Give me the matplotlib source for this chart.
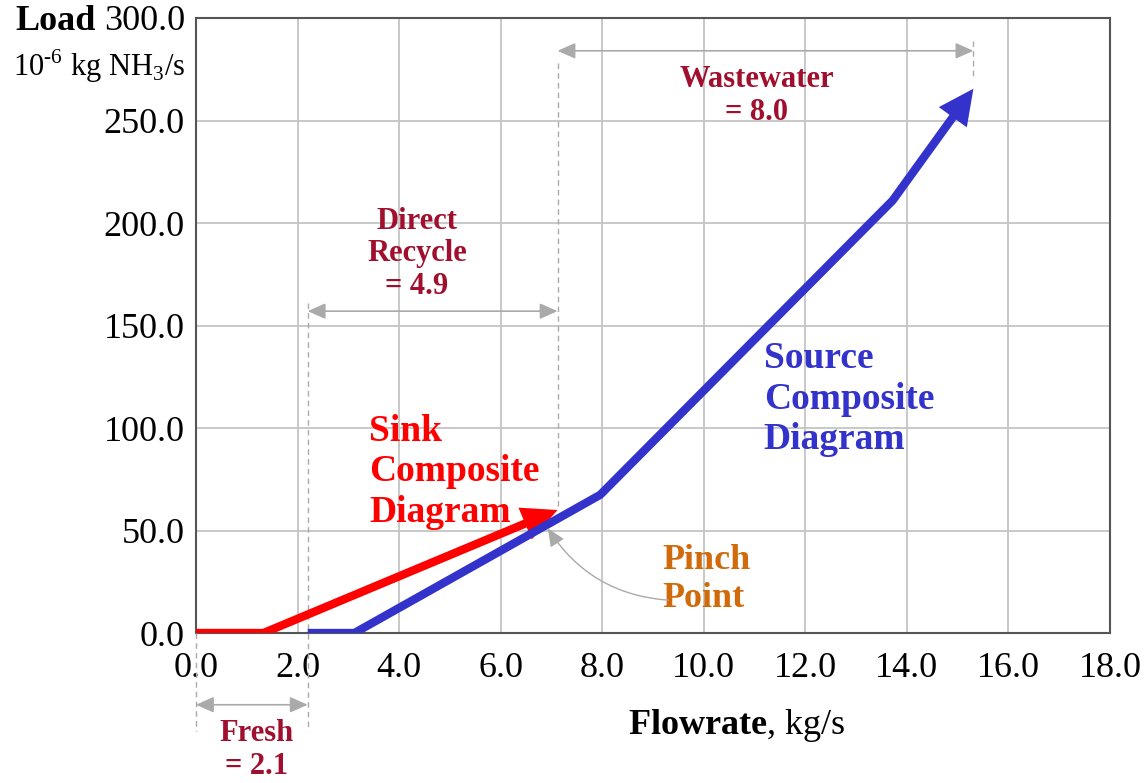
import numpy as np
import matplotlib
matplotlib.use('Agg')
import matplotlib.pyplot as plt
from matplotlib.ticker import MultipleLocator, FormatStrFormatter

plt.rcParams['font.family'] = ['Liberation Serif', 'DejaVu Serif']
plt.rcParams['mathtext.fontset'] = 'custom'
plt.rcParams['mathtext.rm'] = 'Liberation Serif'
plt.rcParams['mathtext.bf'] = 'Liberation Serif:bold'

# composite curves: flowrate (kg/s) vs load (1e-6 kg NH3/s)
sink_flow = [0.0, 1.33, 7.12]
sink_load = [0.0, 0.0, 60.0]
source_flow = [2.2, 3.12, 7.96, 13.72, 15.31]
source_load = [0.0, 0.0, 67.4, 211.0, 265.5]

# targets (dimension arrows)
fresh_span = (0.0, 2.2)
recycle_span = (2.2, 7.12)
waste_span = (7.12, 15.31)
fresh_text = 'Fresh\n= 2.1'
recycle_text = 'Direct\nRecycle\n= 4.9'
waste_text = 'Wastewater\n= 8.0'

RED = '#FF0000'
BLUE = '#3333CC'
DARKRED = '#A0102E'
ORANGE = '#D06A0A'
GRAY = '#AAAAAA'

DPI = 100
fig = plt.figure(figsize=(11.44, 7.83), dpi=DPI)
ax = fig.add_axes([196 / 1144, 1 - 633 / 783, (1110 - 196) / 1144, (633 - 18) / 783])

ax.set_xlim(0, 18)
ax.set_ylim(0, 300)
ax.xaxis.set_major_locator(MultipleLocator(2))
ax.yaxis.set_major_locator(MultipleLocator(50))
ax.xaxis.set_major_formatter(FormatStrFormatter('%.1f'))
ax.yaxis.set_major_formatter(FormatStrFormatter('%.1f'))
ax.tick_params(axis='both', length=0, labelsize=26)
ax.tick_params(axis='x', pad=14)
ax.tick_params(axis='y', pad=8)
ax.grid(True, color='#C4C4C4', lw=1.3)
ax.set_axisbelow(True)
for s in ax.spines.values():
    s.set_color('#555555')
    s.set_linewidth(1.5)

lw = 6
head_len, head_wid, mscale = 0.55, 0.27, 46


def composite(xs, ys, color):
    # stop the thick line a little short of the tip, then add a filled head
    tip = ax.transData.transform((xs[-1], ys[-1]))
    prev = ax.transData.transform((xs[-2], ys[-2]))
    d = (tip - prev) / np.hypot(*(tip - prev))
    base = tip - d * head_len * mscale * DPI / 72 * 0.7
    bx, by = ax.transData.inverted().transform(base)
    ax.plot(list(xs[:-1]) + [bx], list(ys[:-1]) + [by], color=color, lw=lw,
            solid_capstyle='butt', solid_joinstyle='miter', zorder=4)
    ax.annotate('', xy=(xs[-1], ys[-1]), xytext=(xs[-2], ys[-2]),
                arrowprops=dict(arrowstyle=f'-|>,head_length={head_len},head_width={head_wid}',
                                mutation_scale=mscale, fc=color, ec='none', lw=0,
                                shrinkA=0, shrinkB=0), zorder=4)


composite(sink_flow, sink_load, RED)
composite(source_flow, source_load, BLUE)

# dashed guide lines
dash = dict(color=GRAY, lw=1.0, ls=(0, (4, 3)), clip_on=False, zorder=3)
ax.plot([fresh_span[0]] * 2, [0, -48], **dash)
ax.plot([recycle_span[0]] * 2, [161, -48], **dash)
ax.plot([recycle_span[1]] * 2, [278, sink_load[-1]], **dash)
ax.plot([waste_span[1]] * 2, [289, 270], **dash)


def dim_arrow(span, y):
    ax.annotate('', xy=(span[1], y), xytext=(span[0], y), annotation_clip=False,
                arrowprops=dict(arrowstyle='<|-|>,head_length=0.9,head_width=0.4',
                                mutation_scale=12, color=GRAY, lw=1.2,
                                shrinkA=0, shrinkB=0))


dim_arrow(fresh_span, -35)
dim_arrow(recycle_span, 157)
dim_arrow(waste_span, 284)

tkw = dict(color=DARKRED, fontsize=22, fontweight='bold', ha='center', va='center',
           linespacing=1.15)
ax.text(1.19, -57, fresh_text, clip_on=False, **tkw)
ax.text(4.35, 185, recycle_text, **tkw)
ax.text(11.04, 262, waste_text, **tkw)

ax.text(3.41, 78.6, 'Sink\nComposite\nDiagram', color=RED, fontsize=27,
        fontweight='bold', ha='left', va='center', linespacing=1.2)
ax.text(11.18, 114, 'Source\nComposite\nDiagram', color=BLUE, fontsize=27,
        fontweight='bold', ha='left', va='center', linespacing=1.2)
ax.text(9.19, 26, 'Pinch\nPoint', color=ORANGE, fontsize=26,
        fontweight='bold', ha='left', va='center', linespacing=1.2)

# pinch pointer
ax.annotate('', xy=(6.93, 51), xytext=(9.3, 16),
            arrowprops=dict(arrowstyle='-|>,head_length=0.9,head_width=0.4',
                            mutation_scale=12, color=GRAY, lw=1.0,
                            connectionstyle='arc3,rad=-0.25',
                            shrinkA=0, shrinkB=0), zorder=5)

# axis titles
fig.text(15 / 1144, 1 - 22 / 783, 'Load', fontsize=26, fontweight='bold',
         ha='left', va='center')
fig.text(13 / 1144, 1 - 66 / 783,
         '10$^{\\mathregular{\u20106}}$ kg NH$_{\\mathregular{3}}$/s',
         fontsize=22, ha='left', va='center')
fig.text(628 / 1144, 1 - 725 / 783, r'$\mathbf{Flowrate}$, kg/s', fontsize=26,
         ha='left', va='center')

fig.savefig('out.png', dpi=DPI)
